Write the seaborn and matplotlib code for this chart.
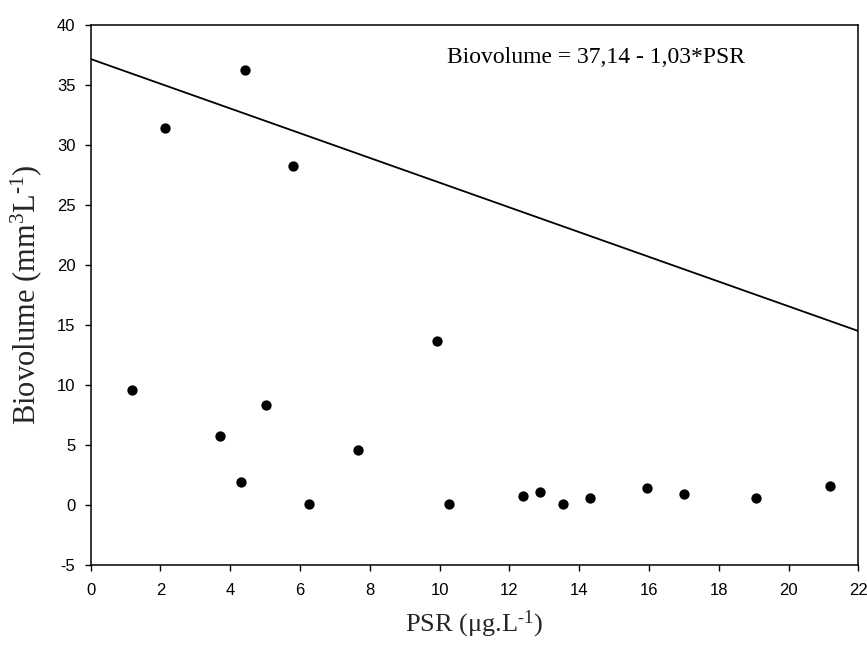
import matplotlib
matplotlib.use("Agg")
import matplotlib.pyplot as plt
import seaborn as sns
import numpy as np
import pandas as pd

# Data
psr = [1.18, 2.14, 3.70, 4.31, 4.41, 5.03, 5.81, 6.26, 7.65, 9.93,
       10.27, 12.38, 12.88, 13.55, 14.32, 15.94, 17.00, 19.06, 21.18]
biovolume = [9.6, 31.4, 5.75, 1.89, 36.2, 8.3, 28.2, 0.08, 4.6, 13.67,
             0.08, 0.72, 1.06, 0.08, 0.58, 1.39, 0.92, 0.58, 1.56]
intercept = 37.14
slope = -1.03
x_ticks = [0, 2, 4, 6, 8, 10, 12, 14, 16, 18, 20, 22]
y_ticks = [-5, 0, 5, 10, 15, 20, 25, 30, 35, 40]

sns.set_theme(style="ticks")
plt.rcParams['font.family'] = ['Liberation Sans', 'DejaVu Sans']
plt.rcParams['axes.unicode_minus'] = False
plt.rcParams['mathtext.fontset'] = 'custom'
plt.rcParams['mathtext.rm'] = 'Liberation Serif'
plt.rcParams['mathtext.it'] = 'Liberation Serif:italic'

fig = plt.figure(figsize=(8.67, 6.5), dpi=100)
ax = fig.add_axes([0.1046, 0.131, 0.8854, 0.962 - 0.131])

df = pd.DataFrame({"PSR": psr, "Biovolume": biovolume})
sns.scatterplot(data=df, x="PSR", y="Biovolume", ax=ax, color="black",
                s=55, edgecolor="black", linewidth=0, zorder=3)

xl = np.array([x_ticks[0], x_ticks[-1]], dtype=float)
line_df = pd.DataFrame({"x": xl, "y": intercept + slope * xl})
sns.lineplot(data=line_df, x="x", y="y", ax=ax, color="black", linewidth=1.3)

ax.set_xlim(x_ticks[0], x_ticks[-1])
ax.set_ylim(y_ticks[0], y_ticks[-1])
ax.set_xticks(x_ticks)
ax.set_yticks(y_ticks)
ax.tick_params(axis="both", direction="out", length=4, width=1, labelsize=12,
               colors="black")
ax.tick_params(axis="x", pad=9)
ax.tick_params(axis="y", pad=7)
for sp in ax.spines.values():
    sp.set_visible(True)
    sp.set_linewidth(1.1)
    sp.set_color("black")

ax.set_xlabel(r"PSR ($\mathrm{\mu}$g.L$^{\text{-}1}$)", fontsize=19,
              family="Liberation Serif", labelpad=8)
ax.set_ylabel(r"Biovolume (mm$^{3}$L$^{\text{-}1}$)", fontsize=22,
              family="Liberation Serif", labelpad=9)

ax.text(10.2, 37.25, "Biovolume = 37,14 - 1,03*PSR", fontsize=17,
        family="Liberation Serif", va="center", ha="left", color="black")

fig.savefig("out.png", dpi=100)
